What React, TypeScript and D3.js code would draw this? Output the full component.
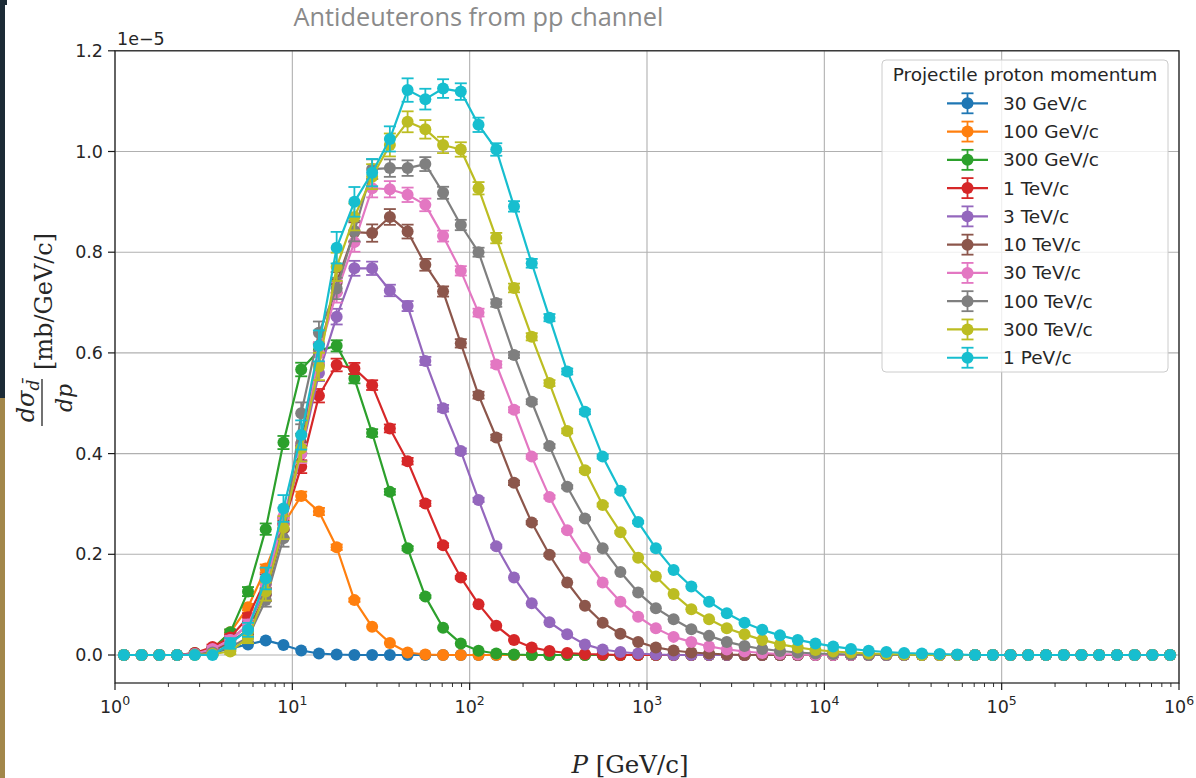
import React from "react";
import * as d3 from "d3";

// ---------- data (values in units of 1e-5 mb/GeV/c) ----------
const seriesLabels = [
  "30 GeV/c", "100 GeV/c", "300 GeV/c", "1 TeV/c", "3 TeV/c",
  "10 TeV/c", "30 TeV/c", "100 TeV/c", "300 TeV/c", "1 PeV/c",
];
const seriesColors = [
  "#1f77b4", "#ff7f0e", "#2ca02c", "#d62728", "#9467bd",
  "#8c564b", "#e377c2", "#7f7f7f", "#bcbd22", "#17becf",
];
// relative statistical-error coefficient per series (err = coef * sqrt(value / P))
const errCoef = [0.03, 0.05, 0.06, 0.07, 0.08, 0.1, 0.1, 0.105, 0.135, 0.147];

// 60 log-spaced momentum bins, 10 per decade, from 1 to 1e6 GeV/c
const binCount = 60;
const momentum = d3.range(binCount).map((k) => Math.pow(10, 0.05 + 0.1 * k));

const s30GeV = [
  0, 0, 0, 0, 0.001, 0.004, 0.013, 0.021, 0.029, 0.02,
  0.009, 0.003, 0.001, 0, 0, 0, 0, 0, 0, 0,
  0, 0, 0, 0, 0, 0, 0, 0, 0, 0,
  0, 0, 0, 0, 0, 0, 0, 0, 0, 0,
  0, 0, 0, 0, 0, 0, 0, 0, 0, 0,
  0, 0, 0, 0, 0, 0, 0, 0, 0, 0,
];
const s100GeV = [
  0, 0, 0, 0, 0.002, 0.012, 0.045, 0.095, 0.172, 0.26,
  0.316, 0.285, 0.214, 0.109, 0.056, 0.024, 0.005, 0.001, 0, 0,
  0, 0, 0, 0, 0, 0, 0, 0, 0, 0,
  0, 0, 0, 0, 0, 0, 0, 0, 0, 0,
  0, 0, 0, 0, 0, 0, 0, 0, 0, 0,
  0, 0, 0, 0, 0, 0, 0, 0, 0, 0,
];
const s300GeV = [
  0, 0, 0, 0, 0.004, 0.012, 0.045, 0.126, 0.25, 0.422,
  0.567, 0.605, 0.614, 0.549, 0.441, 0.324, 0.212, 0.116, 0.054, 0.023,
  0.0085, 0.003, 0.001, 0, 0, 0, 0, 0, 0, 0,
  0, 0, 0, 0, 0, 0, 0, 0, 0, 0,
  0, 0, 0, 0, 0, 0, 0, 0, 0, 0,
  0, 0, 0, 0, 0, 0, 0, 0, 0, 0,
];
const s1TeV = [
  0, 0, 0, 0, 0.004, 0.016, 0.035, 0.075, 0.15, 0.26,
  0.374, 0.515, 0.576, 0.569, 0.536, 0.45, 0.385, 0.301, 0.218, 0.154,
  0.101, 0.058, 0.03, 0.015, 0.008, 0.004, 0.002, 0.001, 0, 0,
  0, 0, 0, 0, 0, 0, 0, 0, 0, 0,
  0, 0, 0, 0, 0, 0, 0, 0, 0, 0,
  0, 0, 0, 0, 0, 0, 0, 0, 0, 0,
];
const s3TeV = [
  0, 0, 0, 0, 0.002, 0.01, 0.03, 0.06, 0.13, 0.26,
  0.4, 0.56, 0.672, 0.768, 0.768, 0.724, 0.693, 0.584, 0.49, 0.405,
  0.308, 0.216, 0.154, 0.103, 0.065, 0.041, 0.021, 0.011, 0.006, 0.003,
  0.001, 0, 0, 0, 0, 0, 0, 0, 0, 0,
  0, 0, 0, 0, 0, 0, 0, 0, 0, 0,
  0, 0, 0, 0, 0, 0, 0, 0, 0, 0,
];
const s10TeV = [
  0, 0, 0, 0, 0.002, 0.008, 0.025, 0.05, 0.12, 0.25,
  0.42, 0.6, 0.74, 0.84, 0.838, 0.87, 0.841, 0.775, 0.722, 0.619,
  0.516, 0.432, 0.342, 0.263, 0.199, 0.144, 0.098, 0.064, 0.042, 0.026,
  0.015, 0.009, 0.005, 0.003, 0.001, 0, 0, 0, 0, 0,
  0, 0, 0, 0, 0, 0, 0, 0, 0, 0,
  0, 0, 0, 0, 0, 0, 0, 0, 0, 0,
];
const s30TeV = [
  0, 0, 0, 0, 0.002, 0.012, 0.03, 0.06, 0.14, 0.275,
  0.4, 0.6, 0.72, 0.82, 0.927, 0.925, 0.914, 0.894, 0.832, 0.763,
  0.68, 0.577, 0.487, 0.394, 0.314, 0.248, 0.193, 0.144, 0.106, 0.076,
  0.053, 0.036, 0.026, 0.017, 0.011, 0.007, 0.004, 0.002, 0.001, 0,
  0, 0, 0, 0, 0, 0, 0, 0, 0, 0,
  0, 0, 0, 0, 0, 0, 0, 0, 0, 0,
];
const s100TeV = [
  0, 0, 0, 0, 0.001, 0.005, 0.015, 0.035, 0.109, 0.232,
  0.48, 0.64, 0.728, 0.842, 0.965, 0.967, 0.967, 0.975, 0.918, 0.854,
  0.8, 0.699, 0.596, 0.503, 0.415, 0.334, 0.271, 0.212, 0.165, 0.124,
  0.093, 0.071, 0.051, 0.038, 0.026, 0.018, 0.012, 0.008, 0.005, 0.003,
  0.002, 0.001, 0, 0, 0, 0, 0, 0, 0, 0,
  0, 0, 0, 0, 0, 0, 0, 0, 0, 0,
];
const s300TeV = [
  0, 0, 0, 0, 0, 0.002, 0.007, 0.034, 0.126, 0.253,
  0.41, 0.573, 0.771, 0.87, 0.95, 1.013, 1.059, 1.044, 1.013, 1.004,
  0.927, 0.828, 0.729, 0.632, 0.54, 0.445, 0.367, 0.298, 0.244, 0.193,
  0.156, 0.121, 0.091, 0.071, 0.053, 0.041, 0.03, 0.021, 0.015, 0.01,
  0.007, 0.005, 0.003, 0.002, 0.001, 0, 0, 0, 0, 0,
  0, 0, 0, 0, 0, 0, 0, 0, 0, 0,
];
const s1PeV = [
  0, 0, 0, 0, 0, 0, 0.023, 0.05, 0.152, 0.291,
  0.437, 0.614, 0.809, 0.9, 0.958, 1.025, 1.122, 1.104, 1.125, 1.119,
  1.053, 1.004, 0.891, 0.778, 0.67, 0.563, 0.483, 0.394, 0.326, 0.264,
  0.212, 0.169, 0.136, 0.106, 0.083, 0.064, 0.05, 0.039, 0.03, 0.023,
  0.017, 0.012, 0.0085, 0.006, 0.004, 0.003, 0.002, 0.001, 0, 0,
  0, 0, 0, 0, 0, 0, 0, 0, 0, 0,
];
const seriesValues = [s30GeV, s100GeV, s300GeV, s1TeV, s3TeV, s10TeV, s30TeV, s100TeV, s300TeV, s1PeV];

const yTickValues = [0, 0.2, 0.4, 0.6, 0.8, 1.0, 1.2];
const yTickLabels = ["0.0", "0.2", "0.4", "0.6", "0.8", "1.0", "1.2"];
const xTickExponents = [0, 1, 2, 3, 4, 5, 6];

// ---------- layout ----------
const W = 1196;
const H = 778;
const plot = { left: 115, right: 1179, top: 50.8, bottom: 683 };

const x = d3.scaleLog().domain([1, 1e6]).range([plot.left, plot.right]);
const y = d3.scaleLinear().domain([-0.0556, 1.2]).range([plot.bottom, plot.top]);

const tickFont = "DejaVu Sans, sans-serif";
const textColor = "#262626";
const markerR = 6;

export default function App() {
  const line = d3
    .line<number>()
    .x((_, i) => x(momentum[i]))
    .y((v) => y(v));

  const minorTicks: number[] = [];
  for (let e = 0; e < 6; e++) {
    for (let m = 2; m <= 9; m++) minorTicks.push(m * Math.pow(10, e));
  }

  const legendX = 882;
  const legendY = 60;
  const legendW = 286;
  const legendH = 312;
  const rowStart = 103.3;
  const rowStep = 28.27;

  return (
    <svg
      width={W}
      height={H}
      style={{ position: "absolute", left: 0, top: 0, background: "#ffffff" }}
    >
      <rect x={0} y={0} width={W} height={H} fill="#ffffff" />
      {/* slide edge strips */}
      <rect x={0} y={0} width={5} height={398} fill="#1c2b36" />
      <rect x={0} y={0} width={7} height={5} fill="#1c2b36" />
      <rect x={0} y={398} width={5} height={H - 398} fill="#a2874a" />

      {/* title */}
      <text
        x={478.5}
        y={26}
        textAnchor="middle"
        fontFamily="'Open Sans', Lato, sans-serif"
        fontSize={25.3}
        fill="#8a8a8a"
      >
        Antideuterons from pp channel
      </text>

      {/* grid */}
      <g stroke="#b0b0b0" strokeWidth={1.1}>
        {xTickExponents.map((e) => (
          <line key={"gx" + e} x1={x(Math.pow(10, e))} x2={x(Math.pow(10, e))} y1={plot.top} y2={plot.bottom} />
        ))}
        {yTickValues.map((v) => (
          <line key={"gy" + v} x1={plot.left} x2={plot.right} y1={y(v)} y2={y(v)} />
        ))}
      </g>

      {/* series */}
      <g>
        {seriesValues.map((vals, si) => {
          const c = seriesColors[si];
          return (
            <g key={"s" + si}>
              <path d={line(vals) || ""} fill="none" stroke={c} strokeWidth={2.2} strokeLinejoin="round" />
              {vals.map((v, i) => {
                const err = errCoef[si] * Math.sqrt(v / momentum[i]);
                if (err * 503 < 1.2) return null;
                const cx = x(momentum[i]);
                const y1 = y(v - err);
                const y2 = y(v + err);
                return (
                  <g key={"e" + i} stroke={c} strokeWidth={1.8}>
                    <line x1={cx} x2={cx} y1={y1} y2={y2} />
                    <line x1={cx - 6} x2={cx + 6} y1={y1} y2={y1} />
                    <line x1={cx - 6} x2={cx + 6} y1={y2} y2={y2} />
                  </g>
                );
              })}
              {vals.map((v, i) => (
                <circle key={"m" + i} cx={x(momentum[i])} cy={y(v)} r={markerR} fill={c} />
              ))}
            </g>
          );
        })}
      </g>

      {/* spines */}
      <rect
        x={plot.left}
        y={plot.top}
        width={plot.right - plot.left}
        height={plot.bottom - plot.top}
        fill="none"
        stroke="#1a1a1a"
        strokeWidth={1.2}
      />

      {/* y ticks */}
      <g fontFamily={tickFont} fontSize={17.5} fill={textColor}>
        {yTickValues.map((v, i) => (
          <g key={"yt" + v}>
            <line x1={plot.left - 7} x2={plot.left} y1={y(v)} y2={y(v)} stroke="#1a1a1a" strokeWidth={1.2} />
            <text x={plot.left - 12} y={y(v)} dy="0.35em" textAnchor="end">
              {yTickLabels[i]}
            </text>
          </g>
        ))}
        <text x={117} y={45}>
          1e−5
        </text>
      </g>

      {/* x ticks */}
      <g fontFamily={tickFont} fill={textColor}>
        {xTickExponents.map((e) => (
          <g key={"xt" + e}>
            <line
              x1={x(Math.pow(10, e))}
              x2={x(Math.pow(10, e))}
              y1={plot.bottom}
              y2={plot.bottom + 7}
              stroke="#1a1a1a"
              strokeWidth={1.2}
            />
            <text x={x(Math.pow(10, e))} y={713} textAnchor="middle" fontSize={17.5}>
              10
              <tspan dy={-8} fontSize={12.5}>
                {e}
              </tspan>
            </text>
          </g>
        ))}
        {minorTicks.map((t) => (
          <line
            key={"mt" + t}
            x1={x(t)}
            x2={x(t)}
            y1={plot.bottom}
            y2={plot.bottom + 4}
            stroke="#1a1a1a"
            strokeWidth={0.9}
          />
        ))}
      </g>

      {/* x label */}
      <text x={630} y={773} textAnchor="middle" fontFamily="DejaVu Serif, serif" fontSize={24.5} fill={textColor}>
        <tspan fontStyle="italic">P</tspan> [GeV/c]
      </text>

      {/* y label */}
      <g fontFamily="DejaVu Serif, serif" fill={textColor}>
        <text transform="translate(52,370) rotate(-90)" fontSize={24}>
          [mb/GeV/c]
        </text>
        <line x1={42} x2={42} y1={379} y2={426} stroke={textColor} strokeWidth={1.3} />
        <text transform="translate(34,401) rotate(-90)" textAnchor="middle" fontSize={24} fontStyle="italic">
          dσ
          <tspan fontSize={17} dy={5}>
            d̄
          </tspan>
        </text>
        <text transform="translate(72,398) rotate(-90)" textAnchor="middle" fontSize={22} fontStyle="italic">
          dp
        </text>
      </g>

      {/* legend */}
      <g fontFamily={tickFont} fill={textColor}>
        <rect
          x={legendX}
          y={legendY}
          width={legendW}
          height={legendH}
          rx={4}
          fill="#ffffff"
          fillOpacity={0.8}
          stroke="#cccccc"
          strokeWidth={1}
        />
        <text x={legendX + legendW / 2} y={81} textAnchor="middle" fontSize={18.5}>
          Projectile proton momentum
        </text>
        {seriesLabels.map((lab, i) => {
          const cy = rowStart + rowStep * i;
          const c = seriesColors[i];
          return (
            <g key={"lg" + i}>
              <line x1={947} x2={988} y1={cy} y2={cy} stroke={c} strokeWidth={2.2} />
              <g stroke={c} strokeWidth={1.8}>
                <line x1={967.5} x2={967.5} y1={cy - 10} y2={cy + 10} />
                <line x1={961.5} x2={973.5} y1={cy - 10} y2={cy - 10} />
                <line x1={961.5} x2={973.5} y1={cy + 10} y2={cy + 10} />
              </g>
              <circle cx={967.5} cy={cy} r={markerR} fill={c} />
              <text x={1003} y={cy} dy="0.35em" fontSize={18.5}>
                {lab}
              </text>
            </g>
          );
        })}
      </g>
    </svg>
  );
}
